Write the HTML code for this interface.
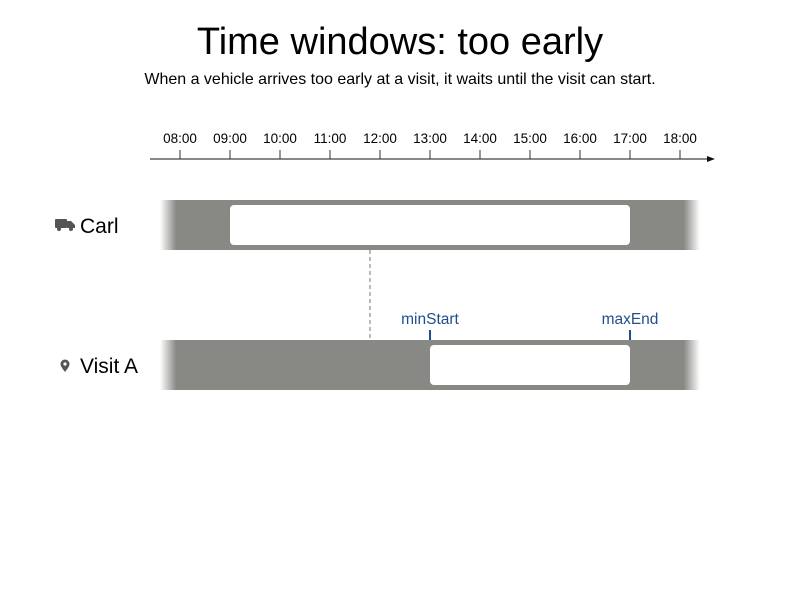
<!DOCTYPE html>
<html><head><meta charset="utf-8"><style>
body{margin:0;background:#fff;font-family:"Liberation Sans",sans-serif}
</style></head><body>
<svg width="800" height="600" xmlns="http://www.w3.org/2000/svg" font-family="Liberation Sans, sans-serif">
<defs>
<linearGradient id="fade" x1="0" x2="1" y1="0" y2="0">
<stop offset="0" stop-color="#888984" stop-opacity="0"/>
<stop offset="0.03" stop-color="#888984"/>
<stop offset="0.97" stop-color="#888984"/>
<stop offset="1" stop-color="#888984" stop-opacity="0"/>
</linearGradient>
</defs>
<text x="400" y="54" text-anchor="middle" font-size="38" fill="#000">Time windows: too early</text>
<text x="400" y="84" text-anchor="middle" font-size="16" fill="#000">When a vehicle arrives too early at a visit, it waits until the visit can start.</text>
<line x1="150" y1="159" x2="710" y2="159" stroke="#111" stroke-width="1"/>
<polygon points="715,159 707,156 707,162" fill="#111"/>
<g id="ticks"></g>
<g id="rows"></g>
<text x="80" y="233" font-size="21" fill="#000">Carl</text>
<g fill="#555">
<rect x="55" y="219" width="12" height="9" rx="1"/>
<path d="M67 221h4l4 4v3h-8z"/>
<circle cx="59" cy="229" r="2"/><circle cx="71" cy="229" r="2"/>
</g>
<text x="80" y="373" font-size="21" fill="#000">Visit A</text>
<path d="M65 372c-3-4-4.5-6-4.5-8a4.5 4.5 0 0 1 9 0c0 2-1.5 4-4.5 8z" fill="#555"/>
<circle cx="65" cy="364" r="1.6" fill="#fff"/>
</svg>
<script>
const hours=["08:00","09:00","10:00","11:00","12:00","13:00","14:00","15:00","16:00","17:00","18:00"];
const carlStart=9, carlEnd=17;
const visitMinStart=13, visitMaxEnd=17;
const arrival=11.8;
const x=h=>180+(h-8)*50;
const NS="http://www.w3.org/2000/svg";
function mk(t,a,p){const e=document.createElementNS(NS,t);for(const k in a)e.setAttribute(k,a[k]);p.appendChild(e);return e;}
const tg=document.getElementById('ticks');
hours.forEach((h,i)=>{
 const l=mk('line',{x1:x(8+i),x2:x(8+i),y1:150,y2:159,stroke:'#333'},tg);
 
 
 const t=mk('text',{x:x(8+i),y:143,'text-anchor':'middle','font-size':13.5,fill:'#000'},tg);
 t.textContent=h;
 
 
});
const rg=document.getElementById('rows');
let b=mk('rect',{x:160,y:200,width:540,height:50,fill:'url(#fade)'},rg);


b=mk('rect',{x:x(carlStart),y:205,width:x(carlEnd)-x(carlStart),height:40,rx:4,fill:'#fff'},rg);


b=mk('rect',{x:160,y:340,width:540,height:50,fill:'url(#fade)'},rg);


b=mk('rect',{x:x(visitMinStart),y:345,width:x(visitMaxEnd)-x(visitMinStart),height:40,rx:4,fill:'#fff'},rg);


b=mk('line',{x1:x(arrival),x2:x(arrival),y1:250,y2:340,stroke:'#777','stroke-dasharray':'4,3'},rg);


[[visitMinStart,'minStart'],[visitMaxEnd,'maxEnd']].forEach(([h,n])=>{
 const l=mk('line',{x1:x(h),x2:x(h),y1:330,y2:340,stroke:'#1f4e8c','stroke-width':2},rg);
 
 
 const t=mk('text',{x:x(h),y:324,'text-anchor':'middle','font-size':15.5,fill:'#1f4e8c'},rg);
 t.textContent=n;
 
 
});
</script>
</body></html>
